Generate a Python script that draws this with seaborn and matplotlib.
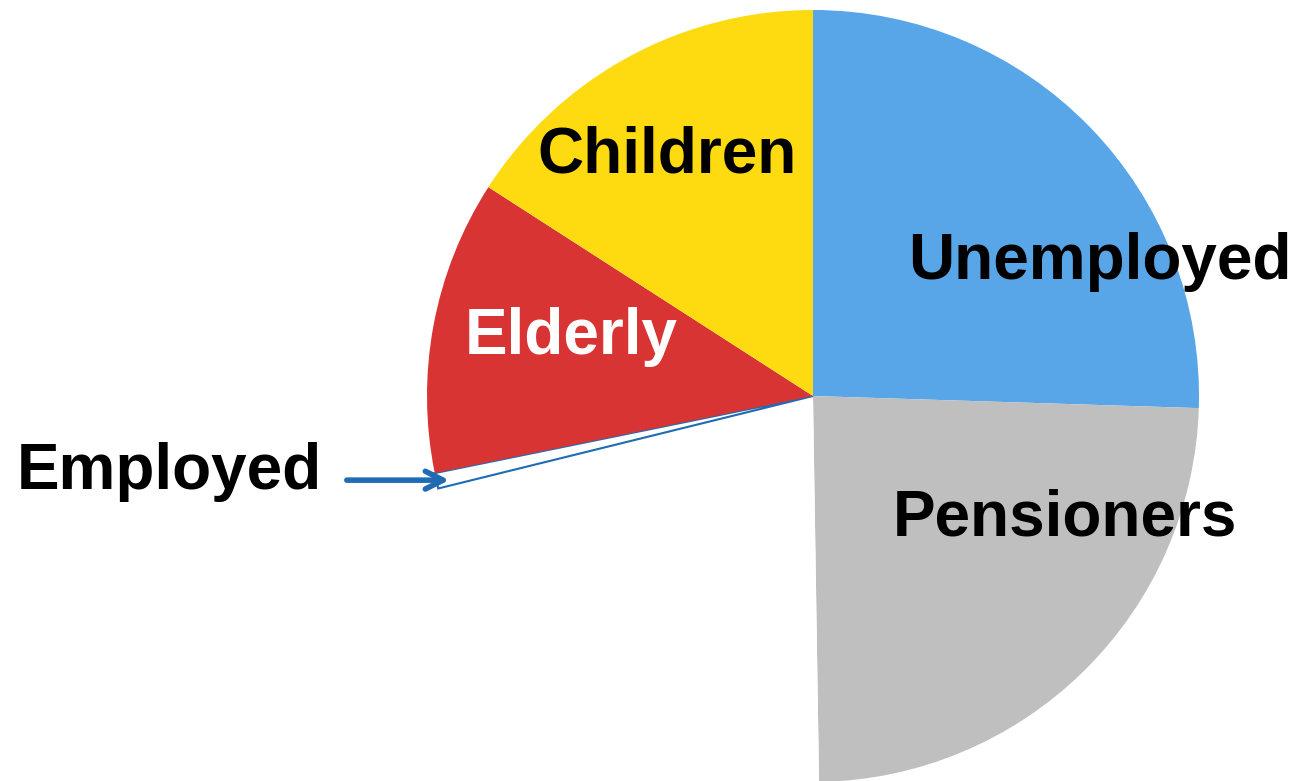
import seaborn as sns
import matplotlib.pyplot as plt

# slice data, clockwise from 12 o'clock (blank = part of the pie that is not shown)
labels = ["Unemployed", "Pensioners", "", "Employed", "Elderly", "Children"]
shares = [25.5, 24.25, 21.4, 0.65, 12.3, 15.9]
colors = ["#58A6E8", "#BFBFBF", "#FFFFFF", "#FFFFFF", "#D93434", "#FDDB10"]
text_colors = ["black", "black", "black", "black", "white", "black"]

sns.set_theme(style="white")
plt.rcParams['font.family'] = ['Liberation Sans', 'DejaVu Sans']

fig = plt.figure(figsize=(12.95, 7.81), dpi=100)
ax = fig.add_axes([0, 0, 1, 1])

wedges, _ = ax.pie(shares, colors=colors, startangle=90, counterclock=False,
                   radius=1.0, wedgeprops=dict(linewidth=0))
# employed: outlined sliver
wedges[3].set_edgecolor("#1F6CB4")
wedges[3].set_linewidth(1.5)

# label positions (data units, radius = 1)
label_pos = {
    "Unemployed": (0.744, 0.348),
    "Pensioners": (0.653, -0.318),
    "Employed": (-1.668, -0.197),
    "Elderly": (-0.627, 0.153),
    "Children": (-0.378, 0.622),
}
for lab, tc in zip(labels, text_colors):
    if not lab:
        continue
    x, y = label_pos[lab]
    ax.text(x, y, lab, ha="center", va="center", fontsize=46,
            fontweight="bold", color=tc)

ax.annotate("", xy=(-0.935, -0.218), xytext=(-1.215, -0.218),
            arrowprops=dict(arrowstyle="->", color="#1F6CB4", lw=4,
                            mutation_scale=32))

ax.set_xlim(-813 / 386, (1295 - 813) / 386)
ax.set_ylim(-(781 - 396) / 386, 396 / 386)
ax.set_aspect("auto")
ax.axis("off")

fig.savefig("out.png", dpi=100)
